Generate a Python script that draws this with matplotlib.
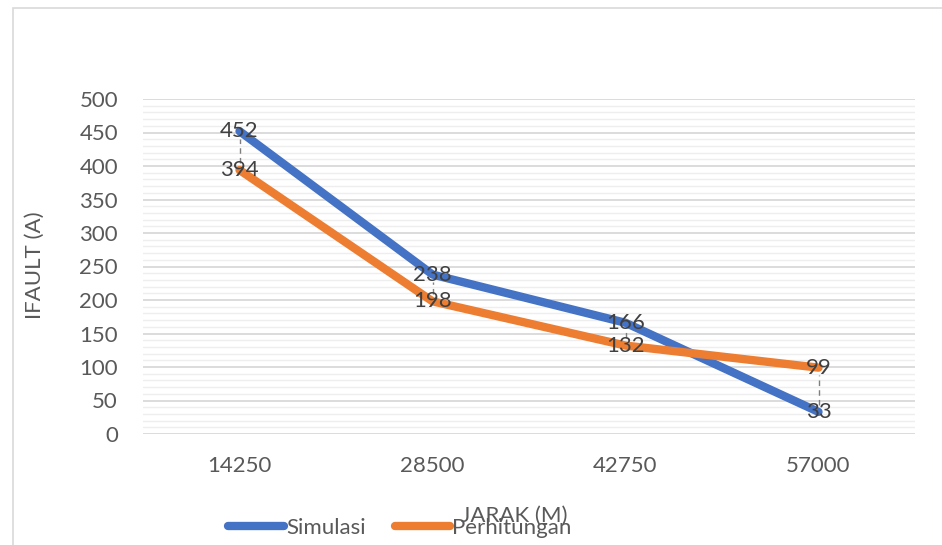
import matplotlib.pyplot as plt
from matplotlib.patches import Rectangle
from matplotlib.ticker import MultipleLocator

plt.rcParams['font.family'] = ['Lato', 'DejaVu Sans']

jarak = ['14250', '28500', '42750', '57000']
simulasi = [452, 238, 166, 33]
perhitungan = [394, 198, 132, 99]

fig = plt.figure(figsize=(9.42, 5.45), dpi=100)
W, H = 942, 545
ax = fig.add_axes([143 / W, 1 - 434 / H, 772 / W, 335 / H])

x = list(range(len(jarak)))
blue = '#4472C4'
orange = '#ED7D31'
ax.plot(x, simulasi, color=blue, lw=6, solid_capstyle='round', label='Simulasi', zorder=3)
ax.plot(x, perhitungan, color=orange, lw=6, solid_capstyle='round', label='Perhitungan', zorder=3)

# leader lines between paired labels
for i in range(len(x)):
    hi = max(simulasi[i], perhitungan[i])
    lo = min(simulasi[i], perhitungan[i])
    if hi - lo > 25:
        ax.plot([i, i], [lo + 11, hi - 11], color='#7f7f7f', lw=1, ls=(0, (4, 3)), zorder=4)

for i in range(len(x)):
    ax.text(i, simulasi[i], str(simulasi[i]), ha='center', va='center',
            fontsize=16, color='#404040', zorder=5)
    ax.text(i, perhitungan[i], str(perhitungan[i]), ha='center', va='center',
            fontsize=16, color='#404040', zorder=5)

ax.set_xlim(-0.5, 3.5)
ax.set_ylim(0, 500)
ax.set_xticks(x)
ax.set_xticklabels(jarak)
ax.yaxis.set_major_locator(MultipleLocator(50))
ax.yaxis.set_minor_locator(MultipleLocator(10))
ax.grid(which='major', axis='y', color='#d9d9d9', lw=1.3, zorder=1)
ax.grid(which='minor', axis='y', color='#eeeeee', lw=1.0, zorder=0)
ax.tick_params(axis='both', which='both', length=0, labelsize=16, colors='#595959')
ax.tick_params(axis='x', pad=16)
ax.tick_params(axis='y', pad=18)
for s in ax.spines.values():
    s.set_visible(False)

fig.text(35 / W, 1 - 265 / H, 'IFAULT (A)', ha='center', va='center', rotation=90,
         fontsize=16, color='#595959')
fig.text(514 / W, 1 - 516 / H, 'JARAK (M)', ha='center', va='center',
         fontsize=16, color='#595959')

leg = fig.legend(loc='center', bbox_to_anchor=(400 / W, 1 - 528 / H), ncol=2,
                 frameon=False, fontsize=16, handlelength=2.5, handletextpad=0.1,
                 columnspacing=1.3, labelcolor='#595959')

# chart border
fig.patches.append(Rectangle((13 / W, -0.1), 1, 1 - 8 / H + 0.1, transform=fig.transFigure,
                             fill=False, edgecolor='#d9d9d9', lw=1.2))

fig.savefig('out.png', dpi=100)
